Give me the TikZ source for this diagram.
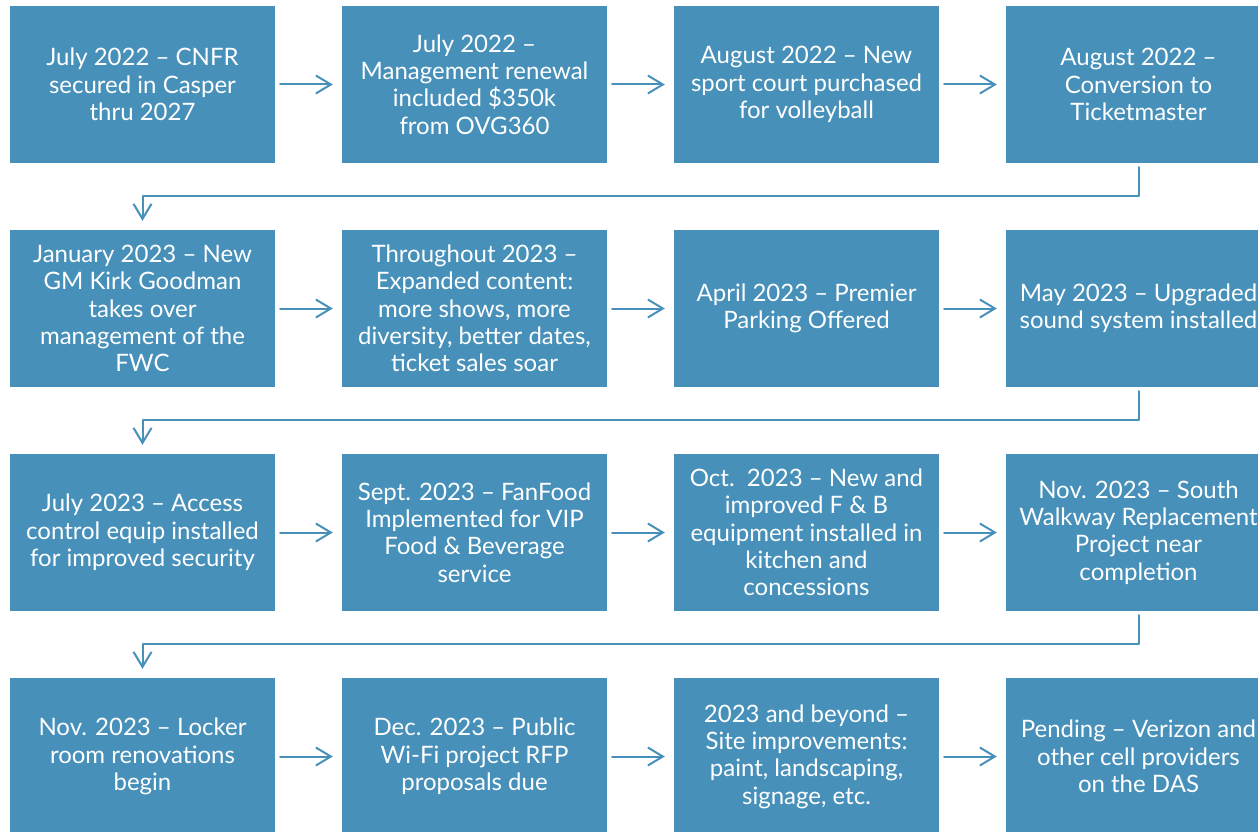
\documentclass[tikz,border=0pt]{standalone}
\usepackage{fontspec}
\setmainfont{Lato}
\usetikzlibrary{arrows.meta}
\definecolor{tileblue}{HTML}{4690BA}
\tikzset{
  tile/.style={fill=tileblue, text=white, minimum width=265pt, minimum height=157pt,
    inner sep=0pt, align=center, font=\fontsize{24}{27.3}\selectfont},
  flow/.style={draw=tileblue, line width=2pt, -{Straight Barb[length=15pt,width=18pt]}},
}
\begin{document}
\begin{tikzpicture}[x=1pt, y=-1pt, line join=round, line cap=round]
  \def\ca{142.5} \def\cb{474.5} \def\cc{806.5} \def\cd{1138.5} % column centres
  \def\ra{84.5} \def\rb{308.5} \def\rc{532.5} \def\rd{756.5} % row centres
  \useasboundingbox (0,0) rectangle (1258,832);
  \clip (0,0) rectangle (1258,832);
  % row 1
  \node[tile] (t1) at (\ca,\ra) {July 2022 – CNFR\\secured in Casper\\thru 2027};
  \node[tile] (t2) at (\cb,\ra) {July 2022 –\\Management renewal\\included \$350k\\from OVG360};
  \node[tile] (t3) at (\cc,\ra) {August 2022 – New\\sport court purchased\\for volleyball};
  \node[tile] (t4) at (\cd,\ra) {August 2022 –\\Conversion to\\Ticketmaster};
  % row 2
  \node[tile] (t5) at (\ca,\rb) {January 2023 – New\\GM Kirk Goodman\\takes over\\management of the\\FWC};
  \node[tile] (t6) at (\cb,\rb) {Throughout 2023 –\\Expanded content:\\more shows, more\\diversity, better dates,\\ticket sales soar};
  \node[tile] (t7) at (\cc,\rb) {April 2023 – Premier\\Parking Offered};
  \node[tile] (t8) at (\cd,\rb) {May 2023 – Upgraded\\sound system installed};
  % row 3
  \node[tile] (t9) at (\ca,\rc) {July 2023 – Access\\control equip installed\\for improved security};
  \node[tile] (t10) at (\cb,\rc) {Sept. 2023 – FanFood\\Implemented for VIP\\Food \& Beverage\\service};
  \node[tile] (t11) at (\cc,\rc) {Oct.\ \ 2023 – New and\\improved F \& B\\equipment installed in\\kitchen and\\concessions};
  \node[tile] (t12) at (\cd,\rc) {Nov. 2023 – South\\Walkway Replacement\\Project near\\completion};
  % row 4
  \node[tile] (t13) at (\ca,\rd) {Nov. 2023 – Locker\\room renovations\\begin};
  \node[tile] (t14) at (\cb,\rd) {Dec. 2023 – Public\\Wi-Fi project RFP\\proposals due};
  \node[tile] (t15) at (\cc,\rd) {2023 and beyond –\\Site improvements:\\paint, landscaping,\\signage, etc.};
  \node[tile] (t16) at (\cd,\rd) {Pending – Verizon and\\other cell providers\\on the DAS};
  % arrows along each row
  \foreach \a/\b in {1/2,2/3,3/4,5/6,6/7,7/8,9/10,10/11,11/12,13/14,14/15,15/16}
    \draw[flow, shorten <=5pt, shorten >=9pt] (t\a.east) -- (t\b.west);
  % turns to the next row
  \foreach \a/\b in {4/5,8/9,12/13}
    \draw[flow, shorten <=4pt, shorten >=9pt] (t\a.south) -- ++(0,33) -| (t\b.north);
\end{tikzpicture}
\end{document}
